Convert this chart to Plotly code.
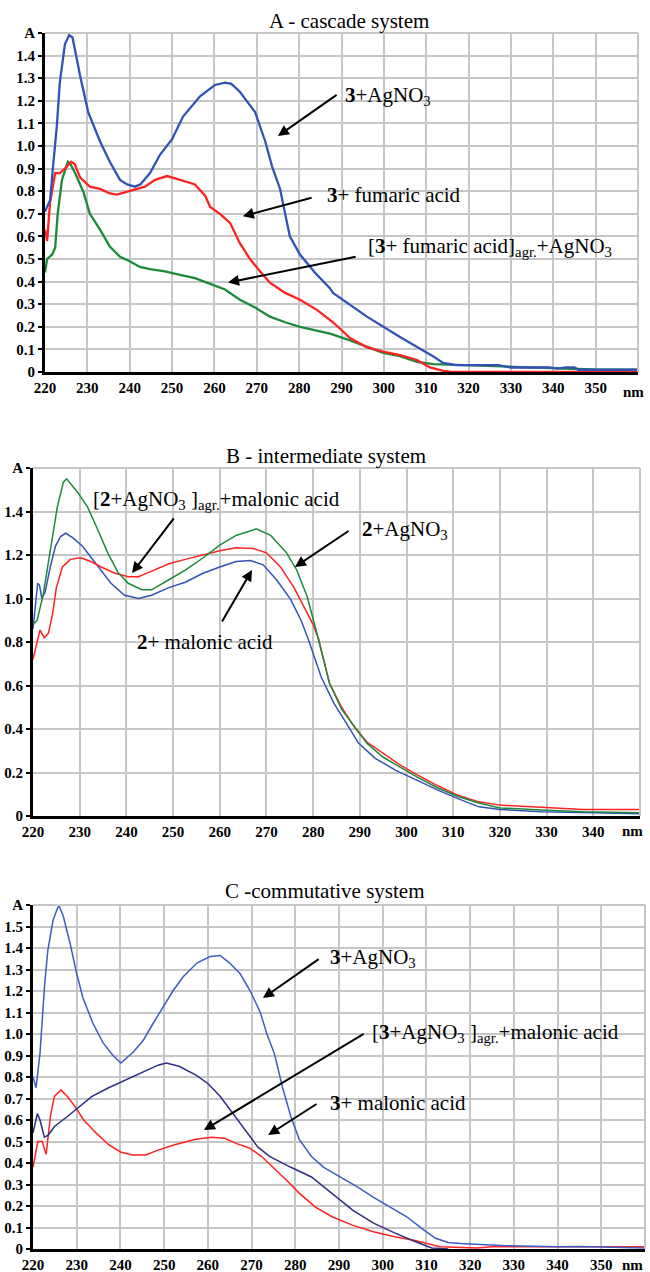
import plotly.graph_objects as go

# ---------------- Panel A : cascade system ----------------
A_blue_x = [220, 221.2, 221.9, 222.8, 223.5, 224.7, 225.7, 226.5, 228.3, 230.2, 233, 235.3, 237.7, 239.4, 241.2, 242.5,
            244.8, 247.1, 250, 252.6, 256.6, 260.1, 262.5, 264, 266, 269.6, 272, 273.6, 275.5, 276.2, 277.8, 280.2,
            283.7, 287.3, 288, 296, 303.8, 311.6, 314, 317, 327, 330, 339, 341, 343, 345, 346, 360]
A_blue_y = [0.71, 0.76, 0.91, 1.09, 1.28, 1.45, 1.49, 1.48, 1.31, 1.15, 1.02, 0.93, 0.85, 0.83, 0.82, 0.83,
            0.88, 0.96, 1.03, 1.13, 1.22, 1.27, 1.28, 1.275, 1.24, 1.15, 1.02, 0.91, 0.81, 0.75, 0.6, 0.52,
            0.44, 0.37, 0.35, 0.245, 0.155, 0.07, 0.04, 0.03, 0.03, 0.02, 0.02, 0.015, 0.02, 0.02, 0.01, 0.01]

A_red_x = [220, 220.5, 221.2, 222, 222.4, 223.5, 224.7, 226.2, 227, 228.3, 230.6, 233, 235.3, 237, 240, 243.6, 246,
           248.8, 251.9, 255.4, 257.8, 259, 261.3, 263.7, 266, 268.4, 270.8, 273.1, 276.7, 280.2, 284.2, 288, 292,
           296, 299.8, 303.8, 307.8, 310.9, 314, 316, 360]
A_red_y = [0.63, 0.58, 0.75, 0.85, 0.88, 0.88, 0.9, 0.93, 0.92, 0.86, 0.82, 0.81, 0.79, 0.785, 0.8, 0.82, 0.85,
           0.867, 0.85, 0.83, 0.78, 0.73, 0.7, 0.66, 0.57, 0.5, 0.445, 0.395, 0.35, 0.32, 0.275, 0.22, 0.15,
           0.11, 0.09, 0.075, 0.053, 0.02, 0.005, 0.0, 0.0]

A_green_x = [220, 220.5, 221.7, 222.4, 223, 224, 225.4, 226, 227.1, 229, 230.6, 233, 235.3, 237.7, 240, 242.4, 244.8,
             248.3, 251.9, 255.4, 259, 262.5, 266, 269.6, 273.1, 276.7, 280.2, 283.7, 287.3, 292, 296, 299.8,
             303.8, 307.8, 311.6, 319.6, 327.4, 339, 351, 360]
A_green_y = [0.44, 0.5, 0.52, 0.55, 0.7, 0.85, 0.93, 0.92, 0.88, 0.8, 0.7, 0.63, 0.555, 0.51, 0.49, 0.465, 0.455,
             0.445, 0.43, 0.415, 0.39, 0.365, 0.32, 0.285, 0.245, 0.22, 0.2, 0.185, 0.17, 0.14, 0.11, 0.085,
             0.07, 0.045, 0.035, 0.03, 0.022, 0.015, 0.01, 0.01]

# ---------------- Panel B : intermediate system ----------------
B_green_x = [220, 220.9, 222.2, 223.7, 225.2, 226.5, 227.2, 229.5, 231.7, 233.9, 236, 238.2, 240.4, 243.3, 245.4,
             249, 252.6, 256.3, 260, 263.5, 267.8, 270.9, 274.3, 276.5, 278.7, 280.8, 283.5, 286.1, 288.8, 291.5,
             295, 298.6, 302.2, 306.6, 311, 315.5, 320, 328.9, 337.8, 350]
B_green_y = [0.88, 0.9, 1.02, 1.21, 1.42, 1.535, 1.55, 1.49, 1.42, 1.315, 1.21, 1.12, 1.07, 1.04, 1.04,
             1.085, 1.13, 1.185, 1.245, 1.29, 1.32, 1.29, 1.21, 1.13, 1.01, 0.84, 0.61, 0.49, 0.41, 0.335,
             0.27, 0.225, 0.18, 0.13, 0.09, 0.06, 0.037, 0.028, 0.02, 0.015]

B_red_x = [220, 220.6, 221.5, 222.4, 223.3, 224.2, 225, 226.3, 228, 230.2, 232.4, 234.6, 237.4, 240.4, 242.6, 244.8,
           249.1, 252.6, 256.3, 260, 263.5, 267.2, 270, 273, 275.9, 278, 280, 281.2, 283.5, 286.1, 288.8, 291.5,
           295, 298.6, 302.2, 306.6, 311, 315.5, 320, 328.9, 337.8, 350]
B_red_y = [0.72, 0.78, 0.855, 0.82, 0.84, 0.93, 1.05, 1.145, 1.18, 1.187, 1.17, 1.145, 1.117, 1.1, 1.1, 1.12,
           1.16, 1.18, 1.2, 1.22, 1.233, 1.23, 1.21, 1.145, 1.05, 0.96, 0.88, 0.81, 0.61, 0.5, 0.41, 0.34,
           0.29, 0.235, 0.19, 0.14, 0.095, 0.065, 0.05, 0.04, 0.03, 0.03]

B_blue_x = [220, 220.6, 221, 221.4, 221.9, 222.6, 223.7, 224.8, 225.9, 227, 228.5, 230.6, 232.4, 234.6, 236.7, 239.6,
            242.6, 245.4, 249.1, 252.6, 256.3, 260, 263.5, 266.5, 269.3, 272.2, 275.2, 277.4, 279, 281.7, 284.4,
            287, 289.7, 293.3, 297.7, 302.2, 306.6, 311, 315.5, 320, 328.9, 340, 350]
B_blue_y = [0.86, 1.0, 1.07, 1.06, 1.0, 1.03, 1.145, 1.24, 1.285, 1.3, 1.28, 1.24, 1.19, 1.13, 1.07, 1.015,
            1.0, 1.015, 1.05, 1.075, 1.115, 1.145, 1.17, 1.175, 1.155, 1.085, 0.995, 0.9, 0.81, 0.64, 0.52,
            0.43, 0.335, 0.265, 0.21, 0.165, 0.12, 0.08, 0.042, 0.03, 0.02, 0.015, 0.01]

# ---------------- Panel C : commutative system ----------------
C_blue_x = [220, 220.7, 221.6, 222, 222.7, 223.4, 224.6, 225.7, 226, 226.9, 228.5, 230, 231.4, 233.7, 236, 238.3,
            240.1, 242.9, 245.2, 247.5, 249.7, 252, 254.3, 257.5, 260.5, 262.8, 265, 267.4, 269.7, 272, 273.5,
            275.2, 277.1, 279, 280.9, 283.7, 286.5, 290.3, 294.1, 297.9, 301.7, 305.5, 309.3, 312.1, 315, 317.8,
            328.2, 340, 345, 360]
C_blue_y = [0.8, 0.75, 0.91, 1.03, 1.24, 1.39, 1.53, 1.59, 1.595, 1.55, 1.42, 1.28, 1.17, 1.05, 0.96, 0.9,
            0.865, 0.915, 0.97, 1.05, 1.125, 1.2, 1.265, 1.33, 1.36, 1.365, 1.33, 1.28, 1.2, 1.1, 1.0,
            0.91, 0.75, 0.615, 0.51, 0.43, 0.38, 0.335, 0.29, 0.24, 0.195, 0.15, 0.09, 0.05, 0.03, 0.025,
            0.015, 0.01, 0.012, 0.005]

C_navy_x = [220, 221, 221.6, 222.6, 223.5, 224.9, 227.8, 230.6, 233.5, 237.3, 241, 244.8, 248.6, 250.5, 253.4,
            257.2, 260, 262.8, 265.7, 268.5, 271.4, 274.2, 279, 283.7, 288.4, 293.2, 297.9, 302.7, 307.4, 311.2, 315]
C_navy_y = [0.54, 0.63, 0.6, 0.52, 0.53, 0.57, 0.615, 0.66, 0.71, 0.75, 0.785, 0.82, 0.855, 0.865, 0.85,
            0.81, 0.77, 0.71, 0.63, 0.555, 0.475, 0.43, 0.38, 0.335, 0.26, 0.18, 0.12, 0.075, 0.035, 0.005, 0.0]

C_red_x = [220, 221.1, 222.1, 223, 224, 224.9, 226.4, 227.8, 229.7, 231.6, 234.4, 237.3, 240.1, 242.9, 245.8, 248.6,
           252.4, 257.2, 260.9, 263.8, 266.6, 269.5, 272.3, 275.2, 278, 280.9, 284.6, 288.4, 293.2, 297.9, 302.7,
           307.4, 310.2, 313.1, 321.6, 325, 360]
C_red_y = [0.38, 0.5, 0.5, 0.44, 0.62, 0.71, 0.74, 0.71, 0.66, 0.6, 0.54, 0.485, 0.45, 0.437, 0.437, 0.46,
           0.485, 0.51, 0.52, 0.515, 0.49, 0.47, 0.43, 0.375, 0.32, 0.26, 0.195, 0.15, 0.11, 0.08, 0.057,
           0.04, 0.025, 0.01, 0.005, 0.01, 0.01]

# ---------------- tick labels ----------------
A_ytick_vals = [0, 0.1, 0.2, 0.3, 0.4, 0.5, 0.6, 0.7, 0.8, 0.9, 1.0, 1.1, 1.2, 1.3, 1.4, 1.5]
A_ytick_text = ["0", "0.1", "0.2", "0.3", "0.4", "0.5", "0.6", "0.7", "0.8", "0.9", "1.0", "1.1", "1.2", "1.3", "1.4", "A"]
B_ytick_vals = [0, 0.2, 0.4, 0.6, 0.8, 1.0, 1.2, 1.4, 1.6]
B_ytick_text = ["0", "0.2", "0.4", "0.6", "0.8", "1.0", "1.2", "1.4", "A"]
C_ytick_vals = [0, 0.1, 0.2, 0.3, 0.4, 0.5, 0.6, 0.7, 0.8, 0.9, 1.0, 1.1, 1.2, 1.3, 1.4, 1.5, 1.6]
C_ytick_text = ["0", "0.1", "0.2", "0.3", "0.4", "0.5", "0.6", "0.7", "0.8", "0.9", "1.0", "1.1", "1.2", "1.3", "1.4", "1.5", "A"]
AC_xtick_vals = [220, 230, 240, 250, 260, 270, 280, 290, 300, 310, 320, 330, 340, 350, 360]
AC_xtick_text = ["220", "230", "240", "250", "260", "270", "280", "290", "300", "310", "320", "330", "340", "350", ""]
B_xtick_vals = [220, 230, 240, 250, 260, 270, 280, 290, 300, 310, 320, 330, 340, 350]
B_xtick_text = ["220", "230", "240", "250", "260", "270", "280", "290", "300", "310", "320", "330", "340", ""]
unit_label = "nm"

titles = ["A - cascade system", "B - intermediate system", "C -commutative system"]

BLUE = "#3352b8"
RED = "#ff2222"
GREEN = "#1d8a3a"
NAVY = "#2c2f82"
SERIF = "Liberation Serif, Times New Roman, serif"

fig = go.Figure()

def add_line(x, y, color, xa, ya, width):
    fig.add_trace(go.Scatter(x=x, y=y, mode="lines", line=dict(color=color, width=width),
                             xaxis=xa, yaxis=ya, showlegend=False, hoverinfo="skip"))

add_line(A_green_x, A_green_y, GREEN, "x", "y", 2.3)
add_line(A_red_x, A_red_y, RED, "x", "y", 2.3)
add_line(A_blue_x, A_blue_y, BLUE, "x", "y", 2.3)

add_line(B_blue_x, B_blue_y, BLUE, "x2", "y2", 1.5)
add_line(B_red_x, B_red_y, RED, "x2", "y2", 1.5)
add_line(B_green_x, B_green_y, GREEN, "x2", "y2", 1.5)

add_line(C_red_x, C_red_y, RED, "x3", "y3", 1.5)
add_line(C_navy_x, C_navy_y, NAVY, "x3", "y3", 1.5)
add_line(C_blue_x, C_blue_y, "#3d5cc4", "x3", "y3", 1.5)

GRID = "#c6c6c6"
tickfont = dict(family=SERIF, size=15, color="black", weight="bold")

def xaxis(domain, rng, vals, text, anchor):
    return dict(domain=domain, range=rng, tickvals=vals, ticktext=text, showgrid=True, gridcolor=GRID,
                gridwidth=2, showline=True, linecolor="black", linewidth=3, zeroline=False,
                ticks="", tickfont=tickfont, anchor=anchor, fixedrange=True, automargin=False)

def yaxis(domain, rng, vals, text, anchor):
    return dict(domain=domain, range=rng, tickvals=vals, ticktext=text, showgrid=True, gridcolor=GRID,
                gridwidth=2, showline=True, linecolor="black", linewidth=3, zeroline=False,
                ticks="outside", ticklen=4, tickwidth=2, tickcolor="black", tickfont=tickfont,
                anchor=anchor, fixedrange=True, automargin=False)

fig.update_layout(
    width=650, height=1272, margin=dict(l=0, r=0, t=0, b=0, autoexpand=False),
    paper_bgcolor="white", plot_bgcolor="white",
    xaxis=xaxis([45/650, 638/650], [220, 360], AC_xtick_vals, AC_xtick_text, "y"),
    yaxis=yaxis([1-372/1272, 1-33/1272], [0, 1.5], A_ytick_vals, A_ytick_text, "x"),
    xaxis2=xaxis([33/650, 640/650], [220, 350], B_xtick_vals, B_xtick_text, "y2"),
    yaxis2=yaxis([1-816/1272, 1-468/1272], [0, 1.6], B_ytick_vals, B_ytick_text, "x2"),
    xaxis3=xaxis([33/650, 645/650], [220, 360], AC_xtick_vals, AC_xtick_text, "y3"),
    yaxis3=yaxis([1-1249/1272, 1-905/1272], [0, 1.6], C_ytick_vals, C_ytick_text, "x3"),
)

# gray border on top/right
for xr, yr in [("x", "y"), ("x2", "y2"), ("x3", "y3")]:
    fig.add_shape(type="line", xref=xr + " domain", yref=yr + " domain", x0=0, x1=1, y0=1, y1=1,
                  line=dict(color=GRID, width=2))
    fig.add_shape(type="line", xref=xr + " domain", yref=yr + " domain", x0=1, x1=1, y0=0, y1=1,
                  line=dict(color=GRID, width=2))

# "nm" unit labels at the right end of each x axis
for px, py in [(633, 392), (632, 831), (632, 1265)]:
    fig.add_annotation(text=unit_label, xref="paper", yref="paper", x=px/650, y=1-py/1272,
                       showarrow=False, xanchor="center", yanchor="middle",
                       font=dict(family=SERIF, size=15, color="black", weight="bold"))

# titles
title_font = dict(family=SERIF, size=21, color="black")
for t, px, py in zip(titles, [349, 326, 324], [21, 456, 891]):
    fig.add_annotation(text=t, xref="paper", yref="paper", x=px/650, y=1-py/1272,
                       showarrow=False, font=title_font, xanchor="center", yanchor="middle")

lab_font = dict(family=SERIF, size=21, color="black")

def arrow(xr, yr, hx, hy, tx, ty):
    fig.add_annotation(text="", xref=xr, yref=yr, x=hx, y=hy, axref=xr, ayref=yr, ax=tx, ay=ty,
                       showarrow=True, arrowhead=2, arrowsize=1.1, arrowwidth=2, arrowcolor="black",
                       standoff=0, startstandoff=0)

def label(xr, yr, x, y, text, anchor="left"):
    fig.add_annotation(text=text, xref=xr, yref=yr, x=x, y=y, showarrow=False, font=lab_font,
                       xanchor=anchor, yanchor="middle", borderpad=0)

# Panel A labels
arrow("x", "y", 275.0, 1.044, 289.2, 1.231)
label("x", "y", 290.6, 1.222, "<b>3</b>+AgNO<sub>3</sub>")
arrow("x", "y", 266.7, 0.689, 283.3, 0.773)
label("x", "y", 286.4, 0.782, "<b>3</b>+ fumaric acid")
arrow("x", "y", 263.2, 0.396, 293.7, 0.511)
label("x", "y", 296.0, 0.551, "[<b>3</b>+ fumaric acid]<sub>agr.</sub>+AgNO<sub>3</sub>")

# Panel B labels
arrow("x2", "y2", 241.2, 1.117, 250.4, 1.375)
label("x2", "y2", 259.2, 1.453, "[<b>2</b>+AgNO<sub>3</sub> ]<sub>agr.</sub>+malonic acid", "center")
arrow("x2", "y2", 276.1, 1.145, 287.9, 1.315)
label("x2", "y2", 290.2, 1.315, "<b>2</b>+AgNO<sub>3</sub>")
arrow("x2", "y2", 266.9, 1.131, 260.3, 0.887)
label("x2", "y2", 256.8, 0.80, "<b>2</b>+ malonic acid", "center")

# Panel C labels
arrow("x3", "y3", 272.6, 1.167, 285.7, 1.353)
label("x3", "y3", 287.8, 1.353, "<b>3</b>+AgNO<sub>3</sub>")
arrow("x3", "y3", 259.1, 0.553, 296.0, 1.005)
label("x3", "y3", 297.4, 1.005, "[<b>3</b>+AgNO<sub>3</sub> ]<sub>agr.</sub>+malonic acid")
arrow("x3", "y3", 273.8, 0.53, 285.2, 0.679)
label("x3", "y3", 287.8, 0.679, "<b>3</b>+ malonic acid")

fig.write_html("out.html", config={"displayModeBar": False},
               post_script="document.body.style.margin='0';document.body.style.padding='0';")
